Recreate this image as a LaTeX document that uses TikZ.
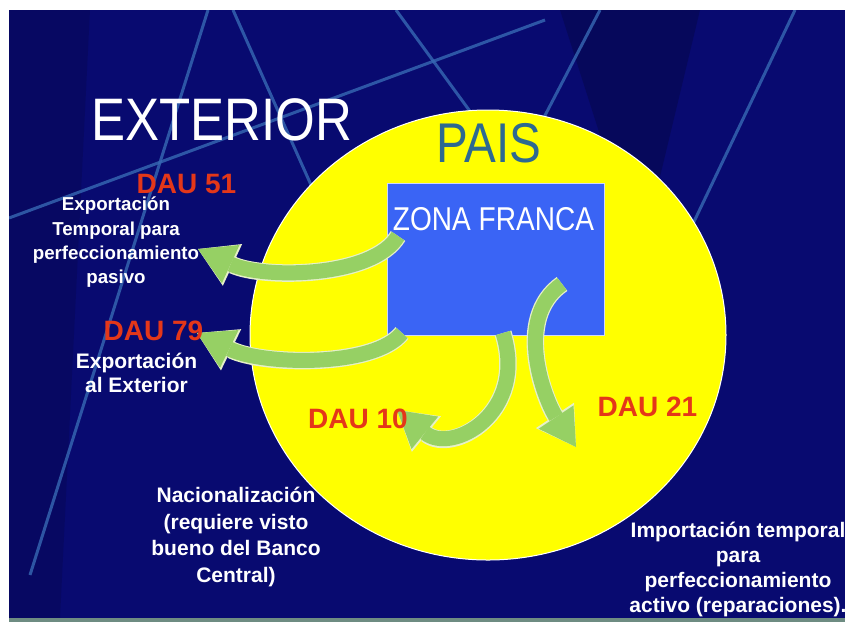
\documentclass[tikz,border=0pt]{standalone}
\usepackage{fontspec}
\setmainfont{Liberation Sans}
\newfontfamily\slidenarrow{Liberation Sans}[FakeStretch=0.85]
\usetikzlibrary{arrows.meta,shapes.geometric}

\definecolor{slidenavy}{RGB}{8,10,112}
\definecolor{streak}{RGB}{55,105,180}
\definecolor{paisyellow}{RGB}{255,255,0}
\definecolor{zfblue}{RGB}{58,100,245}
\definecolor{flowgreen}{RGB}{150,208,100}
\definecolor{flowedge}{RGB}{230,240,200}
\definecolor{daured}{RGB}{228,55,25}
\definecolor{paisteal}{RGB}{45,105,145}
\definecolor{footbar}{RGB}{110,140,130}

\tikzset{
  streakline/.style={draw=streak, line width=3pt, opacity=0.8},
  paisarea/.style={ellipse, fill=paisyellow, draw=white, line width=1pt, inner sep=0pt, minimum width=476pt, minimum height=450pt},
  zfbox/.style={rectangle, fill=zfblue, draw=white!75!zfblue, line width=0.8pt, inner sep=0pt, minimum width=217pt, minimum height=152pt},
  flow/.style={draw=flowgreen, line width=15pt, -{Triangle[length=36pt,width=42pt,line width=0pt]},
    preaction={draw=flowedge, line width=17.5pt, -{Triangle[length=38pt,width=46pt,line width=0pt]}}},
  dau/.style={text=daured, font=\bfseries\fontsize{28}{28}\selectfont, inner sep=0pt, anchor=base},
  whitebold/.style={text=white, align=center, inner sep=0pt},
  bigtitle/.style={inner sep=0pt, anchor=base},
}

\begin{document}
\begin{tikzpicture}[x=1pt, y=-1pt]
\useasboundingbox (0,0) rectangle (845,622);
\fill[white] (0,0) rectangle (845,622);
\fill[slidenavy] (9,10) rectangle (845,618);
% background streaks
\begin{scope}
\clip (9,10) rectangle (845,618);
\fill[black, opacity=0.18] (560,10) -- (700,10) -- (640,260) -- cycle;
\fill[black, opacity=0.12] (9,10) -- (90,10) -- (60,618) -- (9,618) -- cycle;
\draw[streakline] (208,10) -- (30,575);
\draw[streakline] (233,10) -- (340,250);
\draw[streakline] (9,218) -- (545,20);
\draw[streakline] (396,10) -- (480,125);
\draw[streakline] (600,10) -- (540,125);
\draw[streakline] (795,10) -- (690,230);
\end{scope}

\node[paisarea] (pais) at (488,335) {};
\node[zfbox] (zf) at (495.5,259) {};
\node[bigtitle, text=white, font=\slidenarrow\fontsize{60}{60}\selectfont] (exterior) at (222,140) {EXTERIOR};
\node[bigtitle, text=paisteal, font=\slidenarrow\fontsize{56}{56}\selectfont] (paistxt) at (489,162) {PAIS};
\node[bigtitle, text=white, font=\slidenarrow\fontsize{33}{33}\selectfont] (zftxt) at (493.5,230) {ZONA FRANCA};

% flows out of the zona franca
\coordinate (t51) at (398,236);
\coordinate (h51) at (198,249);
\coordinate (t79) at (402,333);
\coordinate (h79) at (197,333);
\coordinate (t10) at (503,333);
\coordinate (h10) at (397,410);
\coordinate (t21) at (562,284);
\coordinate (h21) at (576,447);
\draw[flow] (t51) .. controls +(-25,42) and +(65,30) .. (h51);
\draw[flow] (t79) .. controls +(-28,35) and +(65,32) .. (h79);
\draw[flow] (t10) .. controls +(25,80) and +(55,45) .. (h10);
\draw[flow] (t21) .. controls +(-50,35) and +(-30,-45) .. (h21);

\node[dau] (dau51) at (186.5,193) {DAU 51};
\node[dau] (dau79) at (153.5,340) {DAU 79};
\node[dau] (dau10) at (358,428) {DAU 10};
\node[dau] (dau21) at (647.5,416) {DAU 21};
\node[whitebold, font=\bfseries\fontsize{18.7}{24.3}\selectfont] (pasivo) at (116,242.5) {Exportación\\Temporal para\\perfeccionamiento\\pasivo};
\node[whitebold, font=\bfseries\fontsize{21}{24}\selectfont] (expext) at (136.5,373) {Exportación\\al Exterior};
\node[whitebold, font=\bfseries\fontsize{21}{26.7}\selectfont] (nacional) at (236,537) {Nacionalización\\(requiere visto\\bueno del Banco\\Central)};
\node[whitebold, font=\bfseries\fontsize{21}{25}\selectfont] (activo) at (738,569.5) {Importación temporal\\para\\perfeccionamiento\\activo (reparaciones).};

\fill[footbar] (9,618) rectangle (845,622);
\end{tikzpicture}
\end{document}
